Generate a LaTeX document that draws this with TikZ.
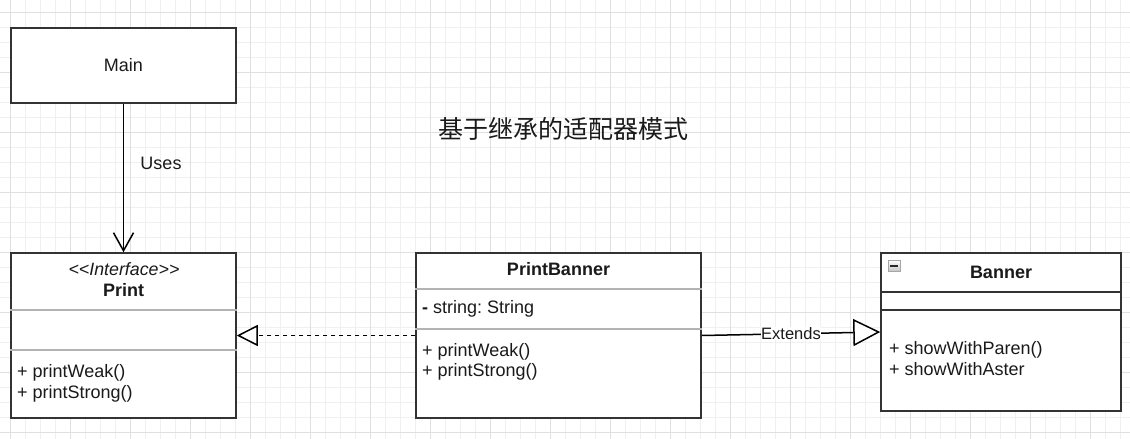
\documentclass[tikz,border=0pt]{standalone}
\usepackage{fontspec}
\setmainfont{Liberation Sans}
\newfontfamily\cjk{Noto Sans CJK SC}
\usetikzlibrary{arrows.meta}
\definecolor{gridminor}{HTML}{F0F0F0}
\definecolor{gridmajor}{HTML}{E0E0E0}
\definecolor{border}{HTML}{333333}
\definecolor{divlight}{HTML}{B3B3B3}
\definecolor{txt}{HTML}{1A1A1A}
\tikzset{
  umlbox/.style={draw=border, line width=1.5pt, fill=white, rectangle, inner sep=0pt},
  lbl/.style={font=\fontsize{18}{20.5}\selectfont, text=txt, inner sep=0pt},
  lblleft/.style={lbl, anchor=west, align=left},
  conn/.style={draw=black, line width=1.5pt},
  hollowtri/.style={-{Triangle[open, fill=white, length=#1, width=#1]}},
}
\frenchspacing
\begin{document}
\begin{tikzpicture}[x=1pt,y=-1pt]
\useasboundingbox (0,0) rectangle (1130,439);
\fill[white] (0,0) rectangle (1130,439);
% grid
\foreach \x in {10,25,...,1130} \draw[gridminor, line width=1pt] (\x,0) -- (\x,439);
\foreach \y in {-3,12,...,440} \draw[gridminor, line width=1pt] (0,\y) -- (1130,\y);
\foreach \x in {10,70,...,1130} \draw[gridmajor, line width=1pt] (\x,0) -- (\x,439);
\foreach \y in {12,72,...,440} \draw[gridmajor, line width=1pt] (0,\y) -- (1130,\y);

% title
\node[text=txt, inner sep=0pt, font=\cjk\fontsize{25}{28}\selectfont] (title) at (563,129) {基于继承的适配器模式};

% Main
\node[umlbox, minimum width=225pt, minimum height=75pt] (main) at (123.5,65.5) {};
\node[lbl] (maintxt) at (123.5,65.5) {Main};

% Print interface
\node[umlbox, minimum width=225pt, minimum height=165pt] (print) at (123.5,335.5) {};
\draw[divlight, line width=1.5pt] (print.west |- 0,310) -- (print.east |- 0,310);
\draw[divlight, line width=1.5pt] (print.west |- 0,350) -- (print.east |- 0,350);
\node[lbl, font=\itshape\fontsize{17.8}{20}\selectfont] (printst) at (124,269) {{<}{<}Interface{>}{>}};
\node[lbl, font=\bfseries\fontsize{18}{20}\selectfont] (printname) at (123.5,290) {Print};
\node[lblleft] (printm) at (17,383.5) {+ printWeak()\\+ printStrong()};

% PrintBanner
\node[umlbox, minimum width=285pt, minimum height=165pt] (pb) at (558.5,335.5) {};
\draw[divlight, line width=1.5pt] (pb.west |- 0,289) -- (pb.east |- 0,289);
\draw[divlight, line width=1.5pt] (pb.west |- 0,329) -- (pb.east |- 0,329);
\node[lbl, font=\bfseries\fontsize{18}{20}\selectfont] (pbname) at (558.5,269) {PrintBanner};
\node[lblleft] (pbattr) at (422,309) {\textbf{-} string: String};
\node[lblleft] (pbm) at (422,362) {+ printWeak()\\+ printStrong()};

% Banner
\node[umlbox, minimum width=240pt, minimum height=158pt] (banner) at (1001,332) {};
\draw[border, line width=1.5pt] (banner.west |- 0,292) -- (banner.east |- 0,292);
\draw[border, line width=1.5pt] (banner.west |- 0,310) -- (banner.east |- 0,310);
\node[lbl, font=\bfseries\fontsize{18}{20}\selectfont] (bname) at (1001,272) {Banner};
\node[lblleft] (bm) at (889,358.5) {+ showWithParen()\\+ showWithAster};
% collapse icon
\node[draw=gray!70, line width=0.8pt, top color=white, bottom color=gray!45, minimum width=12pt, minimum height=11pt, inner sep=0pt] (icon) at (894,265.5) {};
\draw[black!85, line width=2pt] ([xshift=2.5pt]icon.west) -- ([xshift=-2.5pt]icon.east);

% connectors
\draw[conn, -{Straight Barb[length=18pt, width=20pt]}] (main.south) -- (print.north);
\node[lbl] (uses) at (161,163) {Uses};
\draw[conn, dash pattern=on 4pt off 4pt, hollowtri=21pt] (pb.west) -- (print.east);
\draw[conn, hollowtri=27pt] (pb.east) -- node[fill=white, inner sep=0.5pt, font=\fontsize{16.5}{19}\selectfont, text=txt] (ext) {Extends} (banner.west);
\end{tikzpicture}
\end{document}
